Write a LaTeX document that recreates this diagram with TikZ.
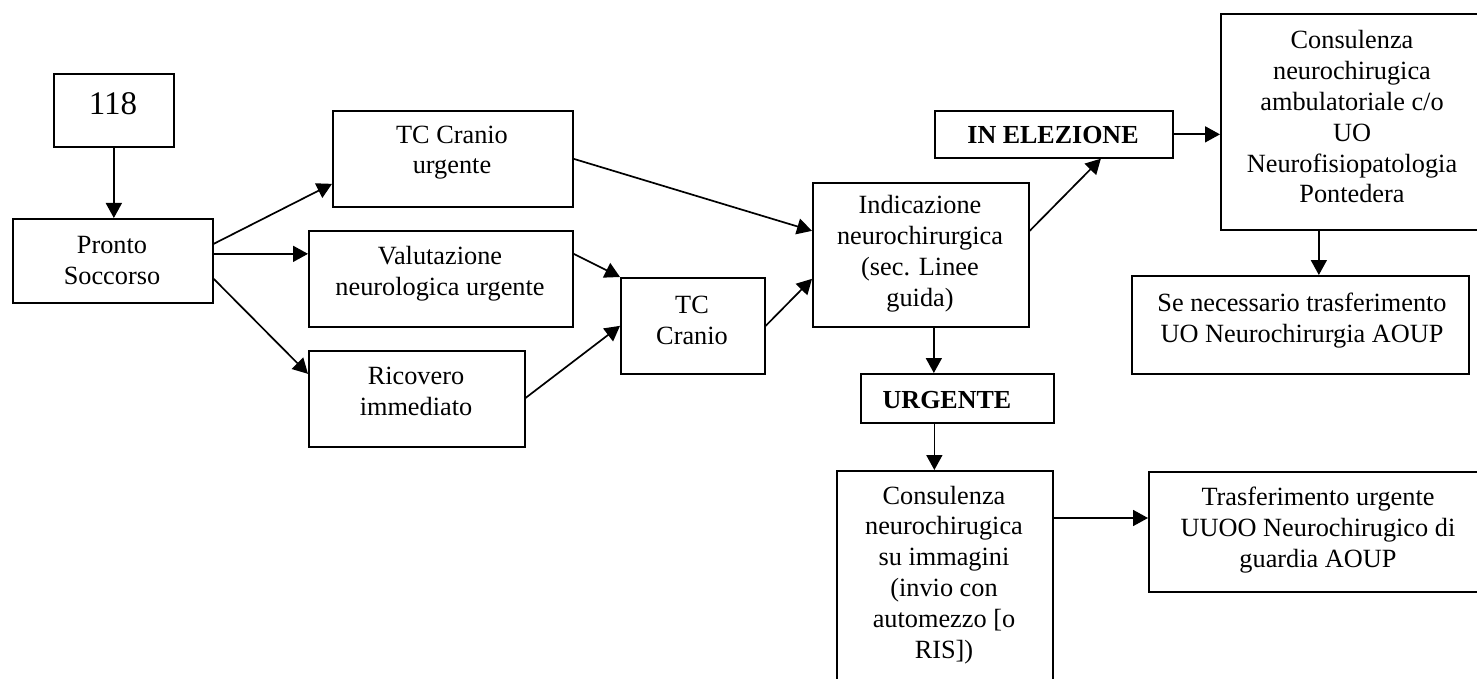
\documentclass[tikz,border=0pt]{standalone}
\usepackage{fontspec}
\setmainfont{Liberation Serif}
\usetikzlibrary{arrows.meta,calc}
\tikzset{
  box/.style={draw, line width=1.7pt, rectangle, inner sep=0pt, anchor=north west},
  txt/.style={anchor=base, inner sep=0pt, align=center, font=\fontsize{26.3}{30.8}\selectfont},
  btxt/.style={txt, font=\fontsize{26}{30.8}\selectfont\bfseries},
  arr/.style={line width=1.7pt, -{Triangle[length=15pt,width=16pt]}},
}
\begin{document}
\begin{tikzpicture}[x=1pt,y=-1pt]
\clip (0,0) rectangle (1477,679);
\fill[white] (0,0) rectangle (1477,679);
% boxes
\node[box, minimum width=120pt, minimum height=73pt] (n118) at (53,73) {};
\node[box, minimum width=200pt, minimum height=84pt] (ps) at (12,218) {};
\node[box, minimum width=240pt, minimum height=96pt] (tcu) at (332,110) {};
\node[box, minimum width=264pt, minimum height=96pt] (val) at (308,230) {};
\node[box, minimum width=216pt, minimum height=96pt] (ric) at (308,350) {};
\node[box, minimum width=144pt, minimum height=96pt] (tc) at (620,277) {};
\node[box, minimum width=216pt, minimum height=144pt] (ind) at (812,182) {};
\node[box, minimum width=238pt, minimum height=47pt] (ele) at (934,110) {};
\node[box, minimum width=264pt, minimum height=216pt] (cons) at (1220,13) {};
\node[box, minimum width=337pt, minimum height=98pt] (se) at (1131,275) {};
\node[box, minimum width=193pt, minimum height=49pt] (urg) at (860,373) {};
\node[box, minimum width=216pt, minimum height=240pt] (csu) at (836,470) {};
\node[box, minimum width=340pt, minimum height=120pt] (tra) at (1148,471) {};
% texts (anchor = baseline of last line)
\node[txt, font=\fontsize{33}{36}\selectfont] (n118t) at (113,115) {118};
\node[txt] (pst) at (112,284) {Pronto\\Soccorso};
\node[txt] (tcut) at (452,174) {TC Cranio\\urgente};
\node[txt] (valt) at (440,295) {Valutazione\\neurologica urgente};
\node[txt] (rict) at (416,415) {Ricovero\\immediato};
\node[txt] (tct) at (692,344) {TC\\Cranio};
\node[txt] (indt) at (920,306) {Indicazione\\neurochirurgica\\(sec. Linee\\guida)};
\node[btxt] (elet) at (1053,144) {IN ELEZIONE};
\node[txt] (const) at (1352,203) {Consulenza\\neurochirugica\\ambulatoriale c/o\\UO\\Neurofisiopatologia\\Pontedera};
\node[txt] (set) at (1302,342) {Se necessario trasferimento\\UO Neurochirurgia AOUP};
\node[btxt] (urgt) at (947,408) {URGENTE};
\node[txt] (csut) at (944,658) {Consulenza\\neurochirugica\\su immagini\\(invio con\\automezzo [o\\RIS])};
\node[txt] (trat) at (1318,567) {Trasferimento urgente\\UUOO Neurochirugico di\\guardia AOUP};
% connectors
\draw[arr] (n118.south) -- (n118.south |- ps.north);
\draw[arr] ([yshift=17pt]ps.east) -- ([yshift=-25pt]tcu.west);
\draw[arr] ([yshift=7pt]ps.east) -- ([yshift=7pt]ps.east -| val.west);
\draw[arr] ([yshift=-18pt]ps.east) -- ([yshift=25pt]ric.west);
\draw[arr] (tcu.east) -- ([yshift=24pt]ind.west);
\draw[arr] ([yshift=25pt]val.east) -- (tc.north west);
\draw[arr] ([yshift=1pt]ric.east) -- (tc.west);
\draw[arr] (tc.east) -- ([yshift=-24pt]ind.west);
\draw[arr] ([yshift=24pt]ind.east) -- ([xshift=47pt]ele.south);
\draw[arr] (ele.east) -- (ele.east -| cons.west);
\draw[arr] ([xshift=-34pt]cons.south) -- ([xshift=-34pt]cons.south |- se.north);
\draw[arr] ([xshift=13pt]ind.south) -- ([xshift=13pt]ind.south |- urg.north);
\draw[arr] ([xshift=-23pt]urg.south) -- ([xshift=-23pt]urg.south |- csu.north);
\draw[arr] ([yshift=-48pt]csu.north east) -- ([yshift=-48pt]csu.north east -| tra.west);
\end{tikzpicture}
\end{document}
